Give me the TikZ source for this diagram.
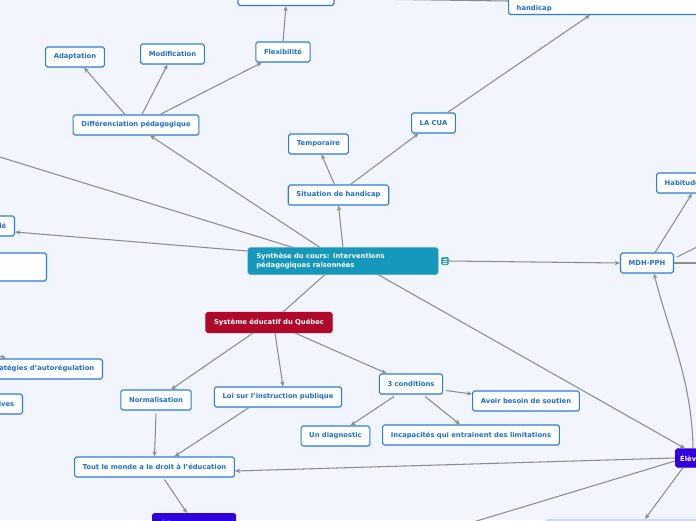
\documentclass[tikz,border=0pt]{standalone}
\usepackage{fontspec}
\setmainfont{DejaVu Sans}
\usepackage{xcolor}
\usepackage{tikz}
\usetikzlibrary{arrows.meta, shadows, calc}
\definecolor{bgcol}{RGB}{242,245,254}
\definecolor{edgeblue}{RGB}{43,127,219}
\definecolor{txtblue}{RGB}{30,111,208}
\definecolor{mainteal}{RGB}{21,152,188}
\definecolor{sysred}{RGB}{176,8,42}
\definecolor{elevpurple}{RGB}{50,0,220}
\definecolor{paleblue}{RGB}{200,220,242}
\definecolor{linkgray}{RGB}{140,140,140}

\begin{document}
\begin{tikzpicture}[
    x=0.03cm, y=-0.03cm,
    box/.style={rectangle, rounded corners=1.5pt, draw=edgeblue, line width=0.9pt, fill=white, text=txtblue, font=\fontsize{5.8}{7}\selectfont\bfseries, minimum height=0.6cm, inner xsep=7pt, inner ysep=2pt, drop shadow={opacity=0.18, shadow xshift=0.4pt, shadow yshift=-0.6pt}},
    mainbox/.style={box, draw=mainteal, fill=mainteal, text=white},
    sysbox/.style={box, draw=sysred, fill=sysred, text=white},
    elevbox/.style={box, draw=elevpurple, fill=elevpurple, text=white},
    noteicon/.style={rectangle, rounded corners=0.8pt, draw=mainteal, fill=mainteal!85, minimum width=0.2cm, minimum height=0.22cm, inner sep=0pt, path picture={\foreach \dy in {-1.6,0,1.6} \draw[white, line width=0.45pt] ([xshift=1.3pt, yshift=\dy pt]path picture bounding box.west) -- ([xshift=-1.3pt, yshift=\dy pt]path picture bounding box.east);}},
    ptr/.style={->, >={Stealth[length=4.5pt, width=3.8pt]}, line width=0.9pt, color=linkgray},
    link/.style={line width=0.9pt, color=linkgray}
]
\path[use as bounding box, fill=bgcol] (0,0) rectangle (696,520);
\clip (0,0) rectangle (696,520);

\node[mainbox, text width=5.2cm, align=left, minimum height=0.78cm] (synth) at (343,261) {Synthèse du cours: Interventions\\pédagogiques raisonnées};
\node[noteicon] (note) at (445,261) {};
\node[sysbox] (sys) at (269,322.5) {Système éducatif du Québec};

\node[box] (diff) at (136,125) {Différenciation pédagogique};
\node[box] (adapt) at (75,57) {Adaptation};
\node[box] (modif) at (172.5,54) {Modification};
\node[box] (flex) at (283,52) {Flexibilité};
\node[box, minimum width=2.88cm, anchor=south] (top) at (286,6) {};
\node[box, anchor=south west, text width=6cm, align=left] (hand) at (508,15) {\phantom{h}\\handicap};
\node[box] (cua) at (433.5,123) {LA CUA};
\node[box] (temp) at (318.5,144) {Temporaire};
\node[box] (situ) at (338.5,195) {Situation de handicap};
\node[box] (mdh) at (647,263) {MDH-PPH};
\node[box, anchor=west] (habit) at (656,183) {Habitudes};

\node[box, anchor=east, text width=2cm, align=right] (le) at (15,226) {lé};
\node[box, anchor=east, minimum width=3cm, minimum height=0.84cm] (blank) at (47,267) {};
\node[box, anchor=east, text width=4.3cm, align=right] (strat) at (103,369) {atégies d'autorégulation};
\node[box, anchor=east, text width=2cm, align=right] (ives) at (23,404) {ives};

\node[box] (norm) at (156,400) {Normalisation};
\node[box] (loi) at (278,397) {Loi sur l'instruction publique};
\node[box] (cond) at (411,384) {3 conditions};
\node[box] (avoir) at (526,401) {Avoir besoin de soutien};
\node[box] (diag) at (335.5,436) {Un diagnostic};
\node[box] (incap) at (471,435) {Incapacités qui entrainent des limitations};
\node[box] (tout) at (154.5,467) {Tout le monde a le droit à l'éducation};

\node[elevbox, anchor=west, minimum height=0.54cm, inner xsep=4pt] (elev) at (675,458) {Élèves};
\node[elevbox, anchor=north west, text width=2cm, align=left] (elevb) at (152,513) {Élèves};
\node[box, draw=paleblue, fill=paleblue, anchor=north west, minimum width=5cm] (pale) at (545,519) {};

\coordinate (offL) at (-10,154);
\coordinate (offS) at (-20,349);
\coordinate (offT) at (360,-1);
\coordinate (offR1) at (705,243);
\coordinate (offR2) at (705,263);
\coordinate (offBL) at (470,523);

\draw[ptr] ($(synth.north)+(-23,0)$) -- ($(diff.south)+(14,0)$);
\draw[link] ($(synth.north)+(-50,0)$) -- (offL);
\draw[ptr] ($(synth.west)+(0,-10)$) -- ($(le.east)+(0,6)$);
\draw[ptr] (synth.north) -- (situ.south);
\draw[link] ($(synth.south)+(-18,0)$) -- ($(sys.north)+(14,0)$);
\draw[ptr] ($(synth.south)+(35,0)$) -- ($(elev.north west)+(10,0)$);
\draw[ptr] (note.east) -- (mdh.west);

\draw[ptr] ($(diff.north)+(-11,0)$) -- ($(adapt.south)+(9,0)$);
\draw[ptr] ($(diff.north)+(6,0)$) -- ($(modif.south)+(-5,0)$);
\draw[ptr] ($(diff.north)+(24,0)$) -- ($(flex.south)+(-21,0)$);
\draw[ptr] (flex.north) -- (top.south);

\draw[ptr] ($(situ.north)+(-4,0)$) -- ($(temp.south)+(3,0)$);
\draw[ptr] ($(situ.north)+(12,0)$) -- ($(cua.south)+(-15,0)$);
\draw[ptr] ($(cua.north)+(14,0)$) -- ($(hand.south west)+(82,0)$);
\draw[link] (offT) -- ($(hand.south west)+(0,-14)$);

\draw[ptr] ($(mdh.north)+(8,0)$) -- ($(habit.south west)+(36,0)$);
\draw[link] ($(mdh.east)+(3,-6)$) -- (offR1);
\draw[link] (mdh.east) -- (offR2);
\draw[ptr] ($(elev.north west)+(18,0)$) .. controls +(-1,-69) and +(14,57) .. ($(mdh.south)+(7,0)$);
\draw[ptr] (elev.west) -- ($(tout.east)+(0,4)$);
\draw[link] ($(elev.west)+(0,3)$) -- (offBL);
\draw[ptr] ($(elev.south west)+(8,0)$) -- ($(pale.north west)+(100,0)$);

\draw[ptr] ($(sys.south)+(-16,0)$) -- ($(norm.north)+(15,0)$);
\draw[ptr] ($(sys.south)+(6,0)$) -- ($(loi.north)+(5,0)$);
\draw[ptr] ($(sys.south)+(26,0)$) -- ($(cond.north west)+(8,0)$);
\draw[ptr] ($(cond.south east)+(3,-4)$) -- ($(avoir.west)+(0,-7)$);
\draw[ptr] ($(cond.south)+(-17,2)$) -- ($(diag.north)+(15,0)$);
\draw[ptr] ($(cond.south)+(14,2)$) -- ($(incap.north)+(-11,0)$);
\draw[ptr] ($(norm.south)+(0,3)$) -- (tout.north);
\draw[ptr] ($(loi.south)+(-29,0)$) -- ($(tout.north)+(20,0)$);
\draw[ptr] ($(tout.south)+(10,2)$) -- ($(elevb.north west)+(35,0)$);
\draw[ptr] (offS) -- ($(strat.north west)+(64,0)$);
\end{tikzpicture}
\end{document}
